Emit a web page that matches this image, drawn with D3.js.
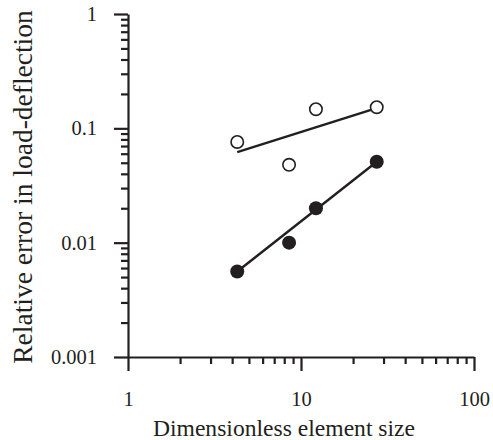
<!doctype html>
<html lang="en">
<head>
  <meta charset="utf-8">
  <title>Relative error vs element size</title>
</head>
<style>
body {
	margin: 0;
	background: white;
}
svg text {
	font-family: "Liberation Serif", "Times New Roman", serif;
}
</style>
<body>
  <script src="https://d3js.org/d3.v7.min.js"></script>
  <script>

	// element sizes (shared by both series)
	var sizes = [4.28, 8.53, 12.2, 27.4];
	// open circles
	var openErr = [0.076, 0.048, 0.147, 0.153];
	// filled circles
	var filledErr = [0.0056, 0.0100, 0.0200, 0.051];

	// fitted lines, end points
	var openFitX = [4.28, 26.5];
	var openFitY = [0.062, 0.148];
	var filledFitX = [4.28, 27.4];
	var filledFitY = [0.0056, 0.051];

	var xMajor = [1, 10, 100];
	var yMajor = [0.001, 0.01, 0.1, 1];

	var ink = "#231f20";

	var svg = d3.select("body").append("svg")
		.attr("width", 493)
		.attr("height", 440),
		margin = {top: 14, right: 19, bottom: 83, left: 128},
		width = 493 - margin.left - margin.right,
		height = 440 - margin.top - margin.bottom,
		g = svg.append("g").attr("transform", "translate(" + margin.left + "," + margin.top + ")");

	var x = d3.scaleLog()
		.domain([1, 100])
		.range([0, width]);

	var y = d3.scaleLog()
		.domain([0.001, 1])
		.range([height, 0]);

	// minor ticks: 2..9 in every decade
	function minors(majors) {
		var out = [];
		for (var i = 0; i < majors.length - 1; i++) {
			for (var k = 2; k <= 9; k++) out.push(majors[i] * k);
		}
		return out;
	}

	// x axis
	g.append("g")
		.attr("transform", "translate(0," + height + ")")
		.call(d3.axisBottom(x).tickValues(minors(xMajor)).tickSize(7).tickFormat(""))
		.call(function (a) { a.select(".domain").remove(); });

	g.append("g")
		.attr("transform", "translate(0," + height + ")")
		.call(d3.axisBottom(x).tickValues(xMajor).tickSize(14).tickSizeOuter(0).tickPadding(20)
			.tickFormat(d3.format("d")));

	// y axis
	g.append("g")
		.call(d3.axisLeft(y).tickValues(minors(yMajor)).tickSize(7).tickFormat(""))
		.call(function (a) { a.select(".domain").remove(); });

	g.append("g")
		.call(d3.axisLeft(y).tickValues(yMajor).tickSize(14).tickSizeOuter(0).tickPadding(17)
			.tickFormat(function (d) { return String(d); }));

	g.selectAll("g").attr("font-family", null);

	g.selectAll(".tick line, .domain")
		.attr("stroke", ink)
		.attr("stroke-width", 2.2);

	g.selectAll(".tick text")
		.attr("fill", ink)
		.attr("font-size", "20.5px");

	// axis titles
	svg.append("text")
		.attr("x", 284)
		.attr("y", 436)
		.attr("text-anchor", "middle")
		.attr("fill", ink)
		.attr("font-size", "23.6px")
		.text("Dimensionless element size");

	svg.append("text")
		.attr("transform", "translate(32,187) rotate(-90)")
		.attr("text-anchor", "middle")
		.attr("fill", ink)
		.attr("font-size", "27.5px")
		.text("Relative error in load-deflection");

	var line = d3.line()
		.x(function (d) { return x(d[0]); })
		.y(function (d) { return y(d[1]); });

	g.append("path")
		.datum(d3.zip(openFitX, openFitY))
		.attr("d", line)
		.attr("fill", "none")
		.attr("stroke", ink)
		.attr("stroke-width", 2.4);

	g.append("path")
		.datum(d3.zip(filledFitX, filledFitY))
		.attr("d", line)
		.attr("fill", "none")
		.attr("stroke", ink)
		.attr("stroke-width", 2.4);

	// open circles
	g.selectAll(".open")
		.data(d3.zip(sizes, openErr))
		.join("circle")
		.classed("open", true)
		.attr("cx", function (d) { return x(d[0]); })
		.attr("cy", function (d) { return y(d[1]); })
		.attr("r", 6.2)
		.attr("fill", "white")
		.attr("stroke", ink)
		.attr("stroke-width", 1.6);

	// filled circles
	g.selectAll(".filled")
		.data(d3.zip(sizes, filledErr))
		.join("circle")
		.classed("filled", true)
		.attr("cx", function (d) { return x(d[0]); })
		.attr("cy", function (d) { return y(d[1]); })
		.attr("r", 7)
		.attr("fill", ink);

  </script>
</body>
</html>
